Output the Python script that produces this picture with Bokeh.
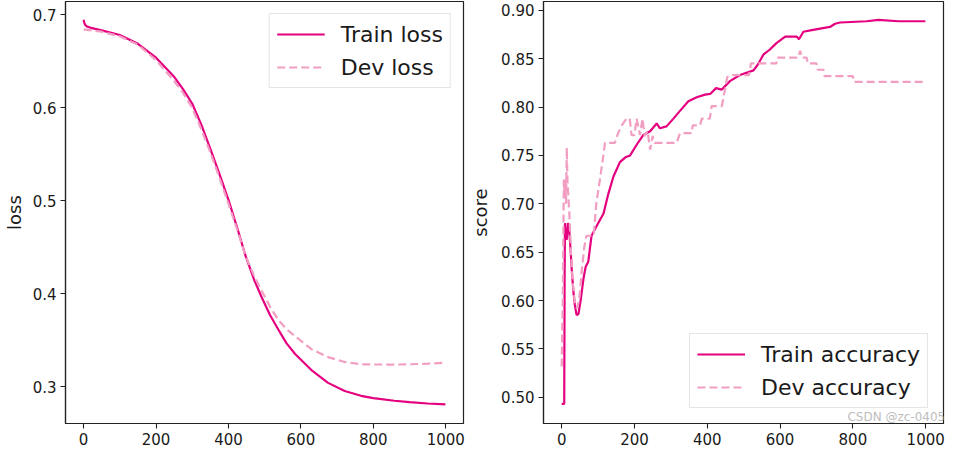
from bokeh.plotting import figure
from bokeh.layouts import row
from bokeh.models import Range1d, FixedTicker, PrintfTickFormatter, Legend, LegendItem, Label
from bokeh.embed import file_html
from bokeh.resources import INLINE

# ---------------- data ----------------
loss_epochs = [0, 2, 5, 10, 20, 50, 100, 150, 200, 250, 275, 300, 325, 350, 375, 400,
               425, 447, 470, 492, 515, 538, 560, 584, 629, 675, 721, 766, 800, 858,
               900, 950, 999]
train_loss = [0.6948, 0.6915, 0.6890, 0.6875, 0.6862, 0.6835, 0.6785, 0.6690, 0.6540,
              0.6335, 0.6200, 0.6045, 0.5820, 0.5560, 0.5290, 0.5010, 0.4700, 0.4410,
              0.4160, 0.3960, 0.3770, 0.3613, 0.3470, 0.3353, 0.3180, 0.3042, 0.2955,
              0.2903, 0.2878, 0.2850, 0.2835, 0.2820, 0.2810]
dev_loss = [0.6844, 0.6843, 0.6842, 0.6840, 0.6835, 0.6820, 0.6770, 0.6680, 0.6515,
            0.6290, 0.6160, 0.6000, 0.5770, 0.5520, 0.5250, 0.4970, 0.4680, 0.4410,
            0.4200, 0.4030, 0.3860, 0.3717, 0.3620, 0.3543, 0.3405, 0.3319, 0.3267,
            0.3242, 0.3240, 0.3239, 0.3242, 0.3249, 0.3258]

train_acc_epochs = [0, 7, 8, 9, 11, 14, 17, 20, 24, 28, 32, 36, 41, 46, 52, 60, 66, 73,
                    82, 96, 115, 128, 142, 160, 175, 188, 206, 224, 243, 261, 270, 288,
                    307, 325, 348, 371, 394, 408, 424, 440, 463, 490, 527, 540, 554, 572,
                    590, 614, 646, 652, 664, 687, 710, 737, 751, 765, 838, 870, 925, 999]
train_acc = [0.4933, 0.4933, 0.6200, 0.6800, 0.6650, 0.6630, 0.6800, 0.6770, 0.6550,
             0.6300, 0.6100, 0.5960, 0.5850, 0.5860, 0.6000, 0.6230, 0.6350, 0.6400,
             0.6670, 0.6770, 0.6900, 0.7100, 0.7280, 0.7430, 0.7480, 0.7500, 0.7610,
             0.7710, 0.7750, 0.7830, 0.7780, 0.7800, 0.7880, 0.7960, 0.8060, 0.8100,
             0.8128, 0.8135, 0.8195, 0.8180, 0.8270, 0.8330, 0.8378, 0.8444, 0.8540,
             0.8594, 0.8660, 0.8727, 0.8727, 0.8700, 0.8777, 0.8794, 0.8810, 0.8827,
             0.8860, 0.8873, 0.8886, 0.8900, 0.8886, 0.8886]

dev_acc_epochs = [0, 3, 6, 8, 10, 12, 14, 16, 18, 21, 25, 30, 36, 42, 48, 55, 62, 68, 88,
                  95, 105, 112, 119, 146, 155, 165, 178, 187, 192, 200, 206, 215, 222,
                  228, 236, 243, 250, 255, 316, 325, 357, 360, 380, 385, 407, 412, 440,
                  447, 455, 470, 515, 520, 590, 592, 650, 655, 660, 673, 676, 700, 703,
                  719, 722, 800, 803, 999]
dev_acc = [0.532, 0.600, 0.725, 0.710, 0.725, 0.700, 0.758, 0.720, 0.710, 0.690, 0.655,
           0.620, 0.598, 0.592, 0.600, 0.630, 0.655, 0.667, 0.667, 0.700, 0.725, 0.743,
           0.763, 0.763, 0.773, 0.781, 0.788, 0.788, 0.771, 0.771, 0.788, 0.771, 0.788,
           0.770, 0.775, 0.756, 0.770, 0.763, 0.763, 0.773, 0.773, 0.781, 0.781, 0.788,
           0.788, 0.801, 0.801, 0.815, 0.831, 0.833, 0.833, 0.845, 0.845, 0.851, 0.851,
           0.858, 0.851, 0.851, 0.845, 0.845, 0.8385, 0.8385, 0.832, 0.832, 0.826, 0.826]

x_ticks = [0, 200, 400, 600, 800, 1000]
loss_ticks = [0.3, 0.4, 0.5, 0.6, 0.7]
score_ticks = [0.50, 0.55, 0.60, 0.65, 0.70, 0.75, 0.80, 0.85, 0.90]
watermark = "CSDN @zc-0405"

TRAIN_COLOR = "#e4007f"
DEV_COLOR = "#f19ec2"
FONT = "DejaVu Sans"
TXT = "#1a1a1a"


def make_fig(width, border_left, border_right, y_start, y_end):
    p = figure(width=width, height=447, output_backend="svg", toolbar_location=None,
               x_range=Range1d(-49.95, 1048.95), y_range=Range1d(y_start, y_end),
               min_border_left=border_left, min_border_right=border_right,
               min_border_top=1, min_border_bottom=24)
    p.grid.visible = False
    p.outline_line_color = "#222222"
    p.outline_line_width = 1.2
    p.background_fill_color = "white"
    p.border_fill_color = "white"
    for ax in (p.xaxis[0], p.yaxis[0]):
        ax.axis_line_color = "#222222"
        ax.axis_line_width = 1.2
        ax.major_tick_line_color = "#222222"
        ax.major_tick_line_width = 1.1
        ax.major_tick_out = 5
        ax.major_tick_in = 0
        ax.minor_tick_line_color = None
        ax.major_label_text_font = FONT
        ax.major_label_text_font_size = "15px"
        ax.major_label_text_color = TXT
        ax.major_label_standoff = 4
        ax.axis_label_text_font = FONT
        ax.axis_label_text_font_size = "18px"
        ax.axis_label_text_font_style = "normal"
        ax.axis_label_text_color = TXT
    p.xaxis.ticker = FixedTicker(ticks=x_ticks)
    return p


# ---------------- left: loss ----------------
p1 = make_fig(467, 61, 4, 0.2605, 0.7145)
r1 = p1.line(loss_epochs, train_loss, line_color=TRAIN_COLOR, line_width=2.2)
r2 = p1.line(loss_epochs, dev_loss, line_color=DEV_COLOR, line_width=2.2, line_dash="8 4")
p1.yaxis.ticker = FixedTicker(ticks=loss_ticks)
p1.yaxis.formatter = PrintfTickFormatter(format="%.1f")
p1.yaxis.axis_label = "loss"
p1.yaxis.axis_label_standoff = 5

leg1 = Legend(items=[LegendItem(label="Train loss", renderers=[r1]),
                     LegendItem(label="Dev loss", renderers=[r2])],
              location="top_right")
p1.add_layout(leg1)

# ---------------- right: score ----------------
p2 = make_fig(482, 76, 6, 0.473, 0.909)
r3 = p2.line(train_acc_epochs, train_acc, line_color=TRAIN_COLOR, line_width=2.2)
r4 = p2.line(dev_acc_epochs, dev_acc, line_color=DEV_COLOR, line_width=2.2, line_dash="8 4")
p2.yaxis.ticker = FixedTicker(ticks=score_ticks)
p2.yaxis.formatter = PrintfTickFormatter(format="%.2f")
p2.yaxis.axis_label = "score"
p2.yaxis.axis_label_standoff = 7

leg2 = Legend(items=[LegendItem(label="Train accuracy", renderers=[r3]),
                     LegendItem(label="Dev accuracy", renderers=[r4])],
              location="bottom_right")
p2.add_layout(leg2)

for lg, m in ((leg1, 12), (leg2, 15)):
    lg.label_text_font = FONT
    lg.label_text_font_size = "22px"
    lg.label_text_color = TXT
    lg.glyph_width = 48
    lg.glyph_height = 26
    lg.label_height = 26
    lg.label_standoff = 16
    lg.padding = 7
    lg.spacing = 7
    lg.margin = m
    lg.border_line_color = "#cccccc"
    lg.border_line_width = 1
    lg.background_fill_alpha = 0.8

p2.add_layout(Label(x=785, y=0.4795, text=watermark, text_font=FONT,
                    text_font_size="12px", text_color="#bdbdbd",
                    text_baseline="middle", text_align="left"))

layout = row(p1, p2)
open("out.html", "w").write(file_html(layout, INLINE))
